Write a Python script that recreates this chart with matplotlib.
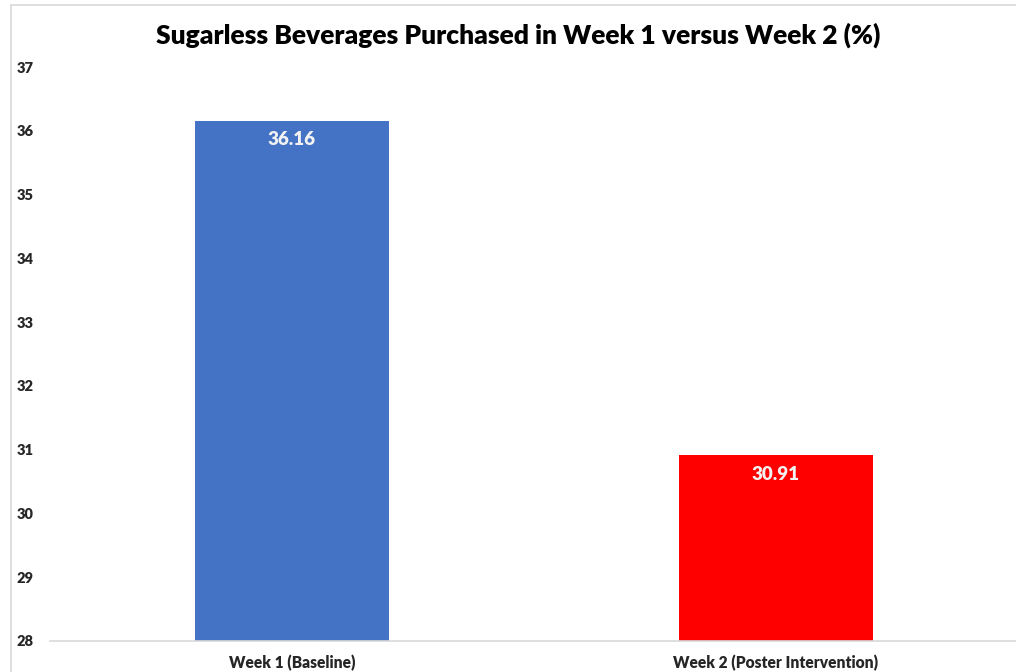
import matplotlib
matplotlib.use("Agg")
import matplotlib.pyplot as plt
from matplotlib.lines import Line2D

categories = ["Week 1 (Baseline)", "Week 2 (Poster Intervention)"]
values = [36.16, 30.91]
bar_colors = ["#4472C4", "#FF0000"]
y_ticks = [28, 29, 30, 31, 32, 33, 34, 35, 36, 37]
title = "Sugarless Beverages Purchased in Week 1 versus Week 2 (%)"

plt.rcParams["font.family"] = ["Lato", "DejaVu Sans"]

W, H = 1016, 672
fig = plt.figure(figsize=(W / 100, H / 100), dpi=100)
fig.patch.set_facecolor("white")

# chart-area border (continues past the right and bottom edges)
fig.add_artist(Line2D([11 / W, 1.0], [1 - 5 / H, 1 - 5 / H], color="#d9d9d9", lw=1.2))
fig.add_artist(Line2D([11 / W, 11 / W], [0, 1 - 5 / H], color="#d9d9d9", lw=1.2))

ax = fig.add_axes([50 / W, 31 / H, 968 / W, (641 - 67) / H])
x = list(range(len(categories)))
ax.bar(x, values, width=0.4, color=bar_colors, zorder=2)
ax.set_xlim(-0.5, 1.5)
ax.set_ylim(y_ticks[0], y_ticks[-1])
ax.set_yticks(y_ticks)
ax.set_xticks(x)
ax.tick_params(axis="both", length=0)
ax.tick_params(axis="y", pad=12)
ax.tick_params(axis="x", pad=10)
ax.set_yticklabels([str(t) for t in y_ticks])
ax.set_xticklabels(categories)
for lbl in ax.get_yticklabels():
    lbl.set_fontsize(10.5)
    lbl.set_fontweight("heavy")
    lbl.set_color("#262626")
for lbl in ax.get_xticklabels():
    lbl.set_fontsize(11.2)
    lbl.set_fontweight("heavy")
    lbl.set_color("#262626")
for s in ["top", "right", "left"]:
    ax.spines[s].set_visible(False)
ax.spines["bottom"].set_color("#d9d9d9")
ax.spines["bottom"].set_linewidth(1.2)

for xi, v in zip(x, values):
    ax.annotate(f"{v:.2f}", (xi, v), xytext=(0, -13.5), textcoords="offset points",
                ha="center", va="center", fontsize=13.5, fontweight="heavy", color="#f2f2f2")

fig.text(518 / W, 1 - 35 / H, title, ha="center", va="center",
         fontsize=19, fontweight="heavy", color="#000000")

fig.savefig("out.png", dpi=100, facecolor="white")
